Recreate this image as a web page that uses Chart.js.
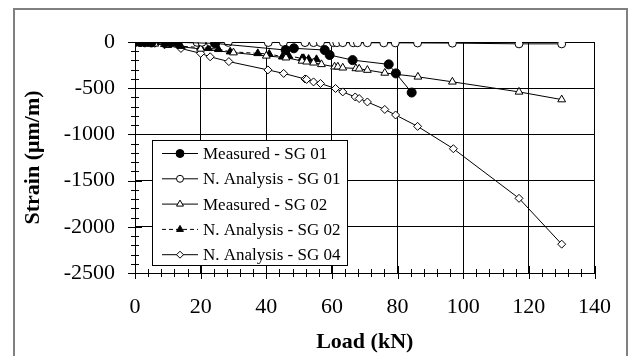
<!DOCTYPE html>
<html>
<head>
<meta charset="utf-8">
<script src="https://cdn.jsdelivr.net/npm/chart.js@4/dist/chart.umd.min.js"></script>
<style>
  body { margin: 0; background: #fff; }
  #wrap { width: 632px; height: 356px; }
</style>
</head>
<body>
<div id="wrap"><canvas id="strainChart" width="632" height="356"></canvas></div>
<script>
// values (load in kN, strain in micro m/m)
const measuredSG01Load = [0, 1.5, 3, 5, 9.3, 10.8, 12.9, 24.4, 45.9, 48.4, 57.8, 59.3, 66.3, 77.3, 79.5, 84.3];
const measuredSG01Strain = [0, 0, -3, -5, -3, -3, -4, -15, -87, -68, -87, -141, -196, -242, -340, -547];

const analysisSG01Load = [0, 1.5, 3, 5, 9, 10.5, 11.5, 18.9, 20.4, 22.9, 28.4, 40.6, 45.2, 51.8, 54.4, 56.5, 60.5, 61.5, 63.3, 66.5, 67.8, 70.8, 75.8, 79.3, 86.1, 96.7, 117, 130];
const analysisSG01Strain = [0, 0, -1, -1, -2, -2, -2, -3, -3, -3, -4, -5, -5, -6, -6, -6, -7, -7, -7, -8, -8, -8, -9, -9, -10, -12, -20, -20];

const measuredSG02Load = [0, 3, 6, 10, 20, 30, 40, 46, 50.9, 52.3, 54.4, 56.8, 60.8, 61.8, 63.3, 67.3, 68.3, 70.8, 76.1, 86.2, 96.7, 117, 130];
const measuredSG02Strain = [0, -10, -20, -35, -75, -115, -150, -170, -205, -214, -225, -242, -268, -268, -279, -286, -290, -304, -335, -377, -431, -540, -623];

const analysisSG02Load = [0, 2, 4, 6, 9, 14, 20, 22.4, 25.4, 29, 37.4, 40.9, 44.9, 46.9, 50.9, 51.4, 52.9, 55.3];
const analysisSG02Strain = [0, -5, -10, -15, -25, -45, -60, -68, -79, -105, -123, -130, -160, -152, -177, -177, -185, -188];

const analysisSG04Load = [0, 2, 4, 6, 9, 14, 20, 22.9, 28.6, 40.5, 45.3, 51.8, 52.3, 54.4, 56.5, 61.1, 63.3, 67.1, 68.3, 70.8, 76.1, 79.4, 86.1, 97, 117, 130];
const analysisSG04Strain = [0, -5, -10, -14, -30, -70, -123, -160, -212, -302, -340, -400, -405, -432, -449, -503, -540, -595, -612, -649, -730, -790, -913, -1155, -1692, -2188];

const xTicks = [0, 20, 40, 60, 80, 100, 120, 140];
const yTicks = [0, -500, -1000, -1500, -2000, -2500];

const serif = "'Times New Roman', 'Liberation Serif', serif";

function toPoints(xs, ys) {
    return xs.map((x, i) => ({ x: x, y: ys[i] }));
}

function makeSeries(label, xs, ys, style, filled, radius, dash) {
    return {
        label: label,
        data: toPoints(xs, ys),
        showLine: true,
        borderColor: '#000',
        borderWidth: 1,
        borderDash: dash || [],
        pointStyle: style,
        pointRadius: radius,
        pointHoverRadius: radius,
        pointBorderColor: '#000',
        pointBorderWidth: 1,
        pointBackgroundColor: filled ? '#000' : '#fff',
        tension: 0
    };
}

const datasets = [
    makeSeries('Measured - SG 01', measuredSG01Load, measuredSG01Strain, 'circle', true, 4.5),
    makeSeries('N. Analysis - SG 01', analysisSG01Load, analysisSG01Strain, 'circle', false, 4),
    makeSeries('Measured - SG 02', measuredSG02Load, measuredSG02Strain, 'triangle', false, 4.5),
    makeSeries('N. Analysis - SG 02', analysisSG02Load, analysisSG02Strain, 'triangle', true, 4.5, [4, 3]),
    makeSeries('N. Analysis - SG 04', analysisSG04Load, analysisSG04Strain, 'rectRot', false, 4)
];

// outer border, crossing tick marks and the boxed legend
const decorations = {
    id: 'decorations',
    beforeDraw(chart) {
        const ctx = chart.ctx;
        ctx.save();
        ctx.fillStyle = '#fff';
        ctx.fillRect(0, 0, chart.width, chart.height);
        ctx.strokeStyle = '#808080';
        ctx.lineWidth = 2;
        ctx.strokeRect(14, 9, 613, 400);
        ctx.restore();
    },
    afterDraw(chart) {
        const ctx = chart.ctx;
        const xs = chart.scales.x;
        const ys = chart.scales.y;
        ctx.save();
        ctx.strokeStyle = '#000';
        ctx.lineWidth = 1;
        ctx.beginPath();
        for (let v = 0; v <= 140; v += 4) {
            const px = Math.round(xs.getPixelForValue(v)) + 0.5;
            const major = v % 20 === 0;
            ctx.moveTo(px, xs.top - (major ? 7 : 4));
            ctx.lineTo(px, xs.top + (major ? 6 : 4));
        }
        for (let v = -2500; v <= 0; v += 100) {
            const py = Math.round(ys.getPixelForValue(v)) + 0.5;
            const major = v % 500 === 0;
            ctx.moveTo(ys.right - (major ? 7 : 4), py);
            ctx.lineTo(ys.right + (major ? 7 : 4), py);
        }
        ctx.stroke();

        // legend box
        const box = { left: 152, top: 140, width: 195, height: 125 };
        ctx.fillStyle = '#fff';
        ctx.fillRect(box.left, box.top, box.width, box.height);
        ctx.strokeRect(box.left + 0.5, box.top + 0.5, box.width, box.height);

        ctx.font = '17px ' + serif;
        ctx.textBaseline = 'middle';
        ctx.textAlign = 'left';
        chart.data.datasets.forEach((ds, i) => {
            const y = box.top + 13.5 + i * 25.3;
            ctx.save();
            ctx.strokeStyle = '#000';
            ctx.lineWidth = 1;
            ctx.setLineDash(ds.borderDash);
            ctx.beginPath();
            ctx.moveTo(162, y);
            ctx.lineTo(198, y);
            ctx.stroke();
            ctx.setLineDash([]);
            ctx.fillStyle = ds.pointBackgroundColor;
            ctx.strokeStyle = '#000';
            Chart.helpers.drawPoint(ctx, {
                pointStyle: ds.pointStyle,
                radius: ds.pointRadius - 0.5,
                rotation: 0,
                borderWidth: 1
            }, 180, y);
            ctx.restore();
            ctx.fillStyle = '#000';
            ctx.fillText(ds.label, 203, y + 1);
        });
        ctx.restore();
    }
};

const ctx = document.getElementById('strainChart').getContext('2d');
new Chart(ctx, {
    type: 'scatter',
    data: { datasets: datasets },
    options: {
        responsive: false,
        animation: false,
        events: [],
        layout: { padding: { top: 42, right: 29, left: 0, bottom: 0 } },
        plugins: {
            legend: { display: false },
            tooltip: { enabled: false }
        },
        scales: {
            x: {
                type: 'linear',
                min: 0,
                max: 140,
                afterBuildTicks(scale) {
                    scale.ticks = xTicks.map(v => ({ value: v }));
                },
                afterFit(scale) { scale.height = 83; },
                ticks: {
                    color: '#000',
                    padding: 21,
                    maxRotation: 0,
                    callback: v => String(v),
                    font: { family: serif, size: 22 }
                },
                grid: { color: '#000', lineWidth: 1, drawTicks: false },
                border: { color: '#000', width: 1 },
                title: {
                    display: true,
                    text: 'Load (kN)',
                    color: '#000',
                    padding: 0,
                    font: { family: serif, size: 22, weight: 'bold' }
                }
            },
            y: {
                type: 'linear',
                min: -2500,
                max: 0,
                afterBuildTicks(scale) {
                    scale.ticks = yTicks.map(v => ({ value: v }));
                },
                afterFit(scale) { scale.width = 135; },
                ticks: {
                    color: '#000',
                    padding: 20,
                    callback: v => String(v),
                    font: { family: serif, size: 22 }
                },
                grid: { color: '#000', lineWidth: 1, drawTicks: false },
                border: { color: '#000', width: 1 },
                title: {
                    display: true,
                    text: 'Strain (μm/m)',
                    color: '#000',
                    padding: { top: 20, bottom: 0 },
                    font: { family: serif, size: 22, weight: 'bold' }
                }
            }
        }
    },
    plugins: [decorations]
});
</script>
</body>
</html>
